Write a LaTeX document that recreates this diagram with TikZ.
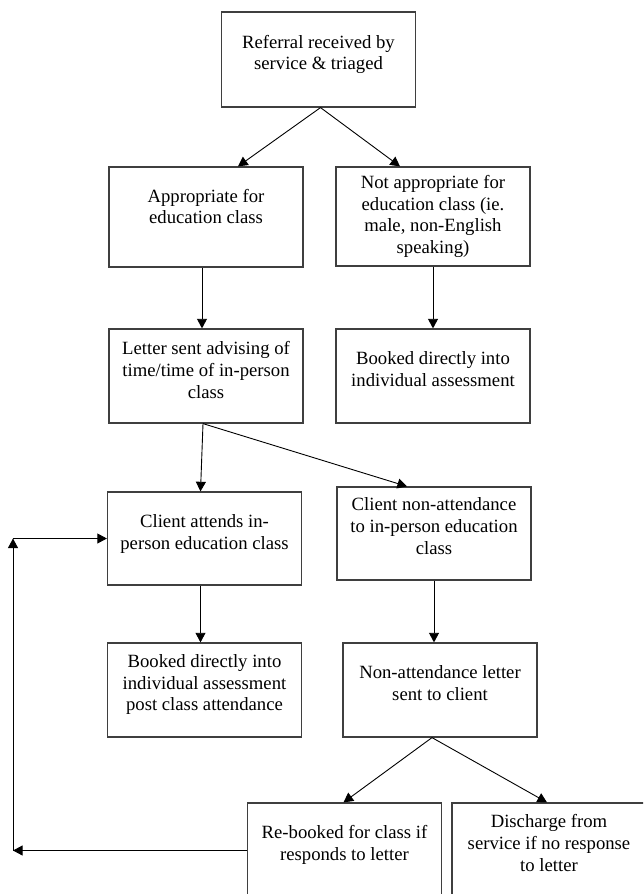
\documentclass[tikz,border=0pt]{standalone}
\usepackage{fontspec}
\setmainfont{Liberation Serif}
\usepackage{xcolor}
\definecolor{boxLine}{HTML}{3F3F3F}
\usetikzlibrary{arrows.meta}
\newcommand{\padbot}[1][7.2pt]{\rule[-#1]{0pt}{0pt}}
\tikzset{
  flowbox/.style={draw=boxLine, line width=0.6pt, align=center, inner sep=0pt,
    minimum width=97pt, minimum height=47pt, font=\fontsize{9.35}{10.85}\selectfont},
  flowarrow/.style={draw=black, line width=0.45pt, -{Triangle[length=4.8pt,width=5pt]}}
}

\begin{document}
\begin{tikzpicture}[x=0.5pt, y=-0.5pt]
  \useasboundingbox (0,0) rectangle (643,894);
  \clip (0,0) rectangle (643,894);
  \node[flowbox, minimum height=47.5pt] (refer) at (318.5,59.5) {Referral received by\\service \& triaged\padbot};
  \node[flowbox, minimum height=50pt] (approp) at (206,217) {Appropriate for\\education class\padbot[10.5pt]};
  \node[flowbox, minimum height=49.5pt] (notappr) at (433,216.5) {Not appropriate for\\education class (ie.\\male, non-English\\speaking)};
  \node[flowbox] (letter) at (206,376) {Letter sent advising of\\time/time of in-person\\class\padbot[6.2pt]};
  \node[flowbox] (bookind) at (433,376) {Booked directly into\\individual assessment\padbot};
  \node[flowbox, minimum height=46.5pt] (attends) at (204.5,538.5) {Client attends in-\\person education class\padbot[6.7pt]};
  \node[flowbox, minimum height=46.5pt] (nonatt) at (434,533.5) {Client non-attendance\\to in-person education\\class\padbot[7.6pt]};
  \node[flowbox] (bookpost) at (204.5,690) {Booked directly into\\individual assessment\\post class attendance\padbot};
  \node[flowbox] (nonletter) at (440,690) {Non-attendance letter\\sent to client\padbot};
  \node[flowbox, minimum height=47.5pt] (rebook) at (344.5,850.5) {Re-booked for class if\\responds to letter\padbot[7.6pt]};
  \node[flowbox, minimum height=47.5pt] (discharge) at (549,850.5) {Discharge from\\service if no response\\to letter\padbot[7.6pt]};

  \coordinate (looptop) at (13,538.5);
  \coordinate (loopbot) at (13,850.5);

  \draw[flowarrow] ([xshift=1pt]refer.south) -- ([xshift=16pt]approp.north);
  \draw[flowarrow] ([xshift=1pt]refer.south) -- ([xshift=-16.5pt]notappr.north);
  \draw[flowarrow] ([xshift=-2pt]approp.south) -- ([xshift=-2pt]letter.north);
  \draw[flowarrow] (notappr.south) -- (bookind.north);
  \draw[flowarrow] ([xshift=-1.5pt]letter.south) -- ([xshift=-2pt]attends.north);
  \draw[flowarrow] ([xshift=-1.5pt]letter.south) -- ([xshift=-13.5pt]nonatt.north);
  \draw[flowarrow] ([xshift=-2pt]attends.south) -- ([xshift=-2pt]bookpost.north);
  \draw[flowarrow] (nonatt.south) -- (nonatt.south |- nonletter.north);
  \draw[flowarrow] ([xshift=-4pt]nonletter.south) -- ([xshift=-0.5pt]rebook.north);
  \draw[flowarrow] ([xshift=-4pt]nonletter.south) -- ([xshift=-1pt]discharge.north);
  \draw[flowarrow] (rebook.west) -- (loopbot);
  \draw[flowarrow] (loopbot) -- (looptop);
  \draw[flowarrow] (looptop) -- (attends.west);
\end{tikzpicture}
\end{document}
